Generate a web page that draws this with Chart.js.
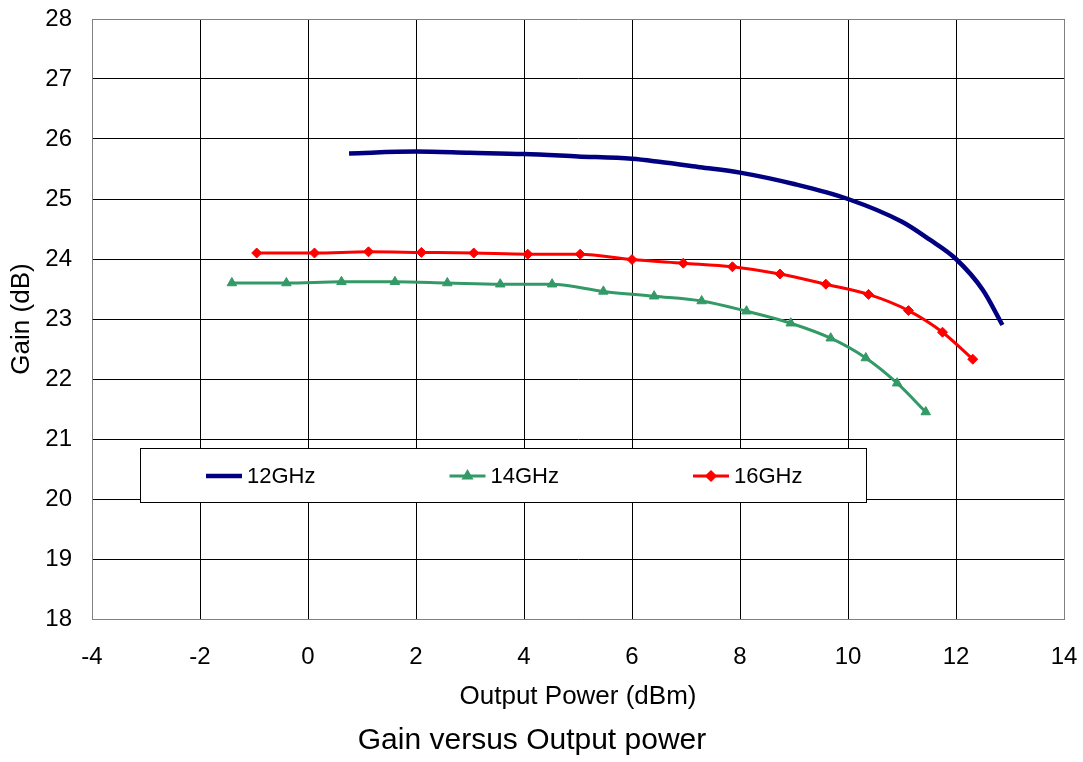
<!DOCTYPE html>
<html lang="en">
<head>
  <meta charset="UTF-8" />
  <title>Gain versus Output power</title>
  <style>
    * {
      margin: 0;
      padding: 0;
      box-sizing: border-box;
    }

    body {
      background-color: #fff;
      width: 1083px;
      height: 762px;
      overflow: hidden;
    }

    .chart-box {
      position: relative;
      width: 1083px;
      height: 762px;
    }
  </style>
</head>
<body>
  <div class="chart-box">
    <canvas id="gainChart"></canvas>
  </div>

  <script src="https://cdn.jsdelivr.net/npm/chart.js"></script>
  <script>
    // values
    const seriesNames = ["12GHz", "14GHz", "16GHz"];

    const pout12 = [0.76, 2.0, 3.0, 4.0, 5.0, 6.0, 6.5, 7.26, 8.0, 9.0, 10.0, 11.0, 11.5, 12.0, 12.5, 12.86];
    const gain12 = [25.76, 25.79, 25.77, 25.75, 25.71, 25.67, 25.62, 25.53, 25.44, 25.25, 25.0, 24.62, 24.33, 24.0, 23.48, 22.90];

    const pout14 = [-1.41, -0.40, 0.62, 1.61, 2.58, 3.56, 4.52, 5.47, 6.41, 7.29, 8.12, 8.94, 9.68, 10.33, 10.91, 11.44];
    const gain14 = [23.60, 23.60, 23.62, 23.62, 23.60, 23.58, 23.58, 23.46, 23.38, 23.30, 23.13, 22.93, 22.68, 22.35, 21.93, 21.45];

    const pout16 = [-0.95, 0.12, 1.12, 2.10, 3.07, 4.07, 5.04, 6.0, 6.95, 7.86, 8.74, 9.59, 10.38, 11.12, 11.75, 12.31];
    const gain16 = [24.10, 24.10, 24.12, 24.11, 24.10, 24.08, 24.08, 23.99, 23.93, 23.87, 23.75, 23.58, 23.41, 23.14, 22.78, 22.33];

    const xTicks = [-4, -2, 0, 2, 4, 6, 8, 10, 12, 14];
    const yTicks = [18, 19, 20, 21, 22, 23, 24, 25, 26, 27, 28];

    const font = "'Liberation Sans', Arial, sans-serif";

    function toPoints(xs, ys) {
      return xs.map((x, i) => ({ x: x, y: ys[i] }));
    }

    // legend drawn as a box inside the plot, like the original
    const boxLegend = {
      id: 'boxLegend',
      afterDatasetsDraw(chart) {
        const ctx = chart.ctx;
        const area = chart.chartArea;
        const left = area.left + 48;
        const top = area.top + 429;
        const w = 726;
        const h = 54;

        ctx.save();
        ctx.fillStyle = '#fff';
        ctx.fillRect(left, top, w, h);
        ctx.strokeStyle = '#000';
        ctx.lineWidth = 1;
        ctx.strokeRect(left + 0.5, top + 0.5, w, h);

        chart.data.datasets.forEach((ds, i) => {
          const x0 = left + 66 + i * 243.5;
          const y = top + 28;
          ctx.strokeStyle = ds.borderColor;
          ctx.lineWidth = ds.borderWidth;
          ctx.beginPath();
          ctx.moveTo(x0, y);
          ctx.lineTo(x0 + 36, y);
          ctx.stroke();
          if (ds.pointStyle && ds.pointRadius > 0) {
            ctx.fillStyle = ds.borderColor;
            Chart.helpers.drawPoint(ctx, { pointStyle: ds.pointStyle, radius: 4, borderWidth: 1 }, x0 + 18, y);
          }
          ctx.fillStyle = '#000';
          ctx.font = '22px ' + font;
          ctx.textBaseline = 'middle';
          ctx.textAlign = 'left';
          ctx.fillText(ds.label, x0 + 41, y + 1);
        });
        ctx.restore();
      }
    };

    const ctx = document.getElementById('gainChart').getContext('2d');
    new Chart(ctx, {
      type: 'line',
      data: {
        datasets: [
          {
            label: seriesNames[0],
            data: toPoints(pout12, gain12),
            borderColor: '#000080',
            backgroundColor: '#000080',
            borderWidth: 4.5,
            pointRadius: 0,
            pointStyle: false,
            cubicInterpolationMode: 'monotone'
          },
          {
            label: seriesNames[1],
            data: toPoints(pout14, gain14),
            borderColor: '#339966',
            backgroundColor: '#339966',
            borderWidth: 3,
            pointStyle: 'triangle',
            pointRadius: 5.5,
            pointBorderWidth: 1,
            cubicInterpolationMode: 'monotone'
          },
          {
            label: seriesNames[2],
            data: toPoints(pout16, gain16),
            borderColor: '#ff0000',
            backgroundColor: '#ff0000',
            borderWidth: 3,
            pointStyle: 'rectRot',
            pointRadius: 5,
            pointBorderWidth: 1,
            cubicInterpolationMode: 'monotone'
          }
        ]
      },
      options: {
        responsive: true,
        maintainAspectRatio: false,
        animation: false,
        layout: {
          padding: { left: 0, right: 19, top: 19, bottom: 0 }
        },
        plugins: {
          legend: { display: false },
          tooltip: { enabled: false },
          title: {
            display: true,
            position: 'bottom',
            text: 'Gain versus Output power',
            color: '#000',
            font: { family: font, size: 30, weight: 'normal' },
            padding: { top: 0, bottom: 3 }
          }
        },
        scales: {
          x: {
            type: 'linear',
            min: xTicks[0],
            max: xTicks[xTicks.length - 1],
            afterBuildTicks: scale => { scale.ticks = xTicks.map(v => ({ value: v })); },
            afterFit: scale => {
              scale.height = 104;
              scale.paddingLeft = 0;
              scale.paddingRight = 0;
            },
            ticks: {
              color: '#000',
              font: { family: font, size: 24 },
              padding: 24,
              maxRotation: 0
            },
            grid: {
              drawTicks: false,
              color: c => (c.tick && (c.tick.value === 14) ? '#808080' : '#000'),
              lineWidth: 1
            },
            border: { color: '#808080', width: 1 },
            title: {
              display: true,
              text: 'Output Power (dBm)',
              color: '#000',
              font: { family: font, size: 26 },
              padding: { top: 0, bottom: 11 }
            }
          },
          y: {
            type: 'linear',
            min: yTicks[0],
            max: yTicks[yTicks.length - 1],
            afterBuildTicks: scale => { scale.ticks = yTicks.map(v => ({ value: v })); },
            afterFit: scale => {
              scale.width = 92;
              scale.paddingTop = 0;
              scale.paddingBottom = 0;
            },
            ticks: {
              color: '#000',
              font: { family: font, size: 24 },
              padding: 20
            },
            grid: {
              drawTicks: false,
              color: c => (c.tick && (c.tick.value === 28) ? '#808080' : '#000'),
              lineWidth: 1
            },
            border: { color: '#808080', width: 1 },
            title: {
              display: true,
              text: 'Gain (dB)',
              color: '#000',
              font: { family: font, size: 26 },
              padding: { top: 6, bottom: 0 }
            }
          }
        }
      },
      plugins: [boxLegend]
    });
  </script>
</body>
</html>
